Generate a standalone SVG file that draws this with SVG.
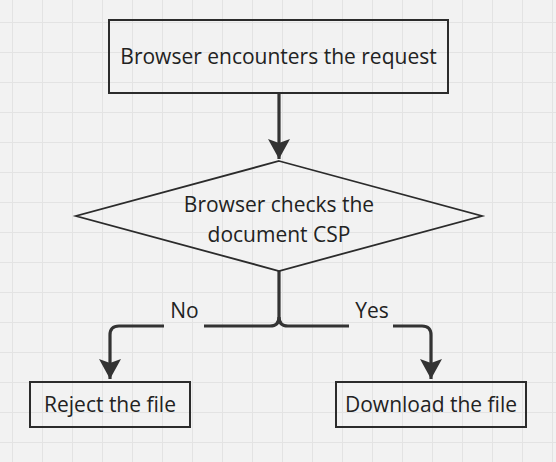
<svg xmlns="http://www.w3.org/2000/svg" width="556" height="462" viewBox="0 0 556 462">
  <style>
    .box { fill: none; stroke: #2b2b2b; stroke-width: 2; }
    .dia { fill: none; stroke: #2b2b2b; stroke-width: 1.8; }
    .lbl { font-family: "Open Sans", "Noto Sans", sans-serif; font-size: 21px; fill: #222; text-anchor: middle; }
    .conn { fill: none; stroke: #333; stroke-width: 3.2; }
  </style>
  <defs>
    <pattern id="grid" patternUnits="userSpaceOnUse" x="12" y="22" width="30" height="30">
      <rect x="0" y="0" width="30" height="1" fill="#e3e3e3"/>
      <rect x="0" y="0" width="1" height="30" fill="#e3e3e3"/>
    </pattern>
    <marker id="arrow" markerUnits="userSpaceOnUse" markerWidth="24" markerHeight="22" refX="20" refY="11" orient="auto" viewBox="0 0 22 22">
      <path d="M0 0 L20 11 L0 22 L4 11 Z" fill="#333"/>
    </marker>
  </defs>
  <rect width="556" height="462" fill="#f2f2f2"/>
  <rect width="556" height="462" fill="url(#grid)"/>

  <g id="connectors">
    <path class="conn" d="M279 93 V159" marker-end="url(#arrow)"/>
    <path class="conn" d="M279 271 V317 Q279 326 270 326 H204"/>
    <path class="conn" d="M164 326 H119 Q110 326 110 335 V379" marker-end="url(#arrow)"/>
    <path class="conn" d="M279 317 Q279 326 288 326 H349"/>
    <path class="conn" d="M393 326 H422 Q431 326 431 335 V379" marker-end="url(#arrow)"/>
    <text class="lbl" x="184.5" y="318">No</text>
    <text class="lbl" x="372" y="318">Yes</text>
  </g>

  <g id="start">
    <rect class="box" x="109" y="20" width="339" height="73"/>
    <text class="lbl" x="278.5" y="64">Browser encounters the request</text>
  </g>

  <g id="decision">
    <polygon class="dia" points="279,161 482,216 279,271 76,216"/>
    <text class="lbl" x="279" y="212">Browser checks the</text>
    <text class="lbl" x="279" y="242">document CSP</text>
  </g>

  <g id="reject">
    <rect class="box" x="30" y="382" width="160" height="45"/>
    <text class="lbl" x="110" y="412">Reject the file</text>
  </g>

  <g id="download">
    <rect class="box" x="336" y="382" width="190" height="45"/>
    <text class="lbl" x="431" y="412">Download the file</text>
  </g>
</svg>
